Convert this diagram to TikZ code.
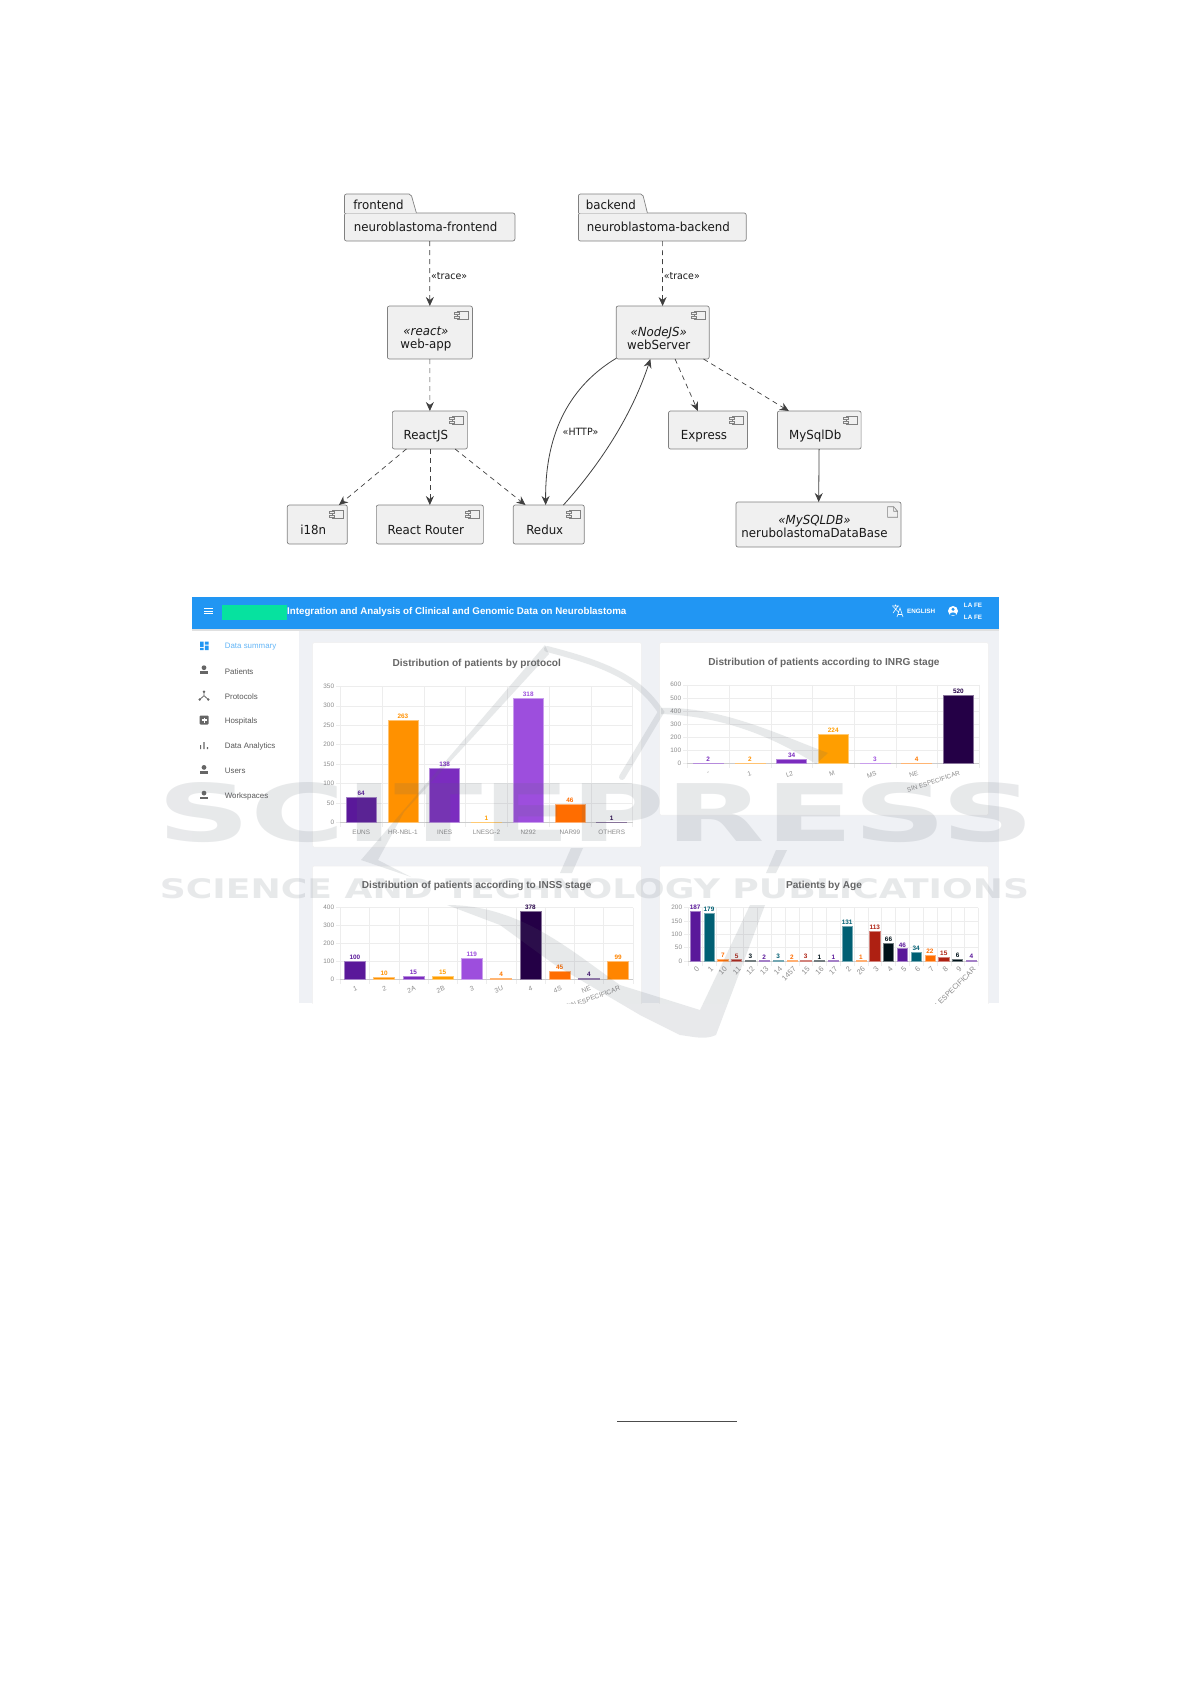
\documentclass[tikz,border=0pt]{standalone}
\usepackage{fontspec}
\usepackage{graphicx}
\setmainfont{Liberation Sans}
\newfontfamily\umlfont[FakeStretch=0.945]{DejaVu Sans}
\newfontfamily\markfont{DejaVu Sans}
\usetikzlibrary{arrows.meta}

\definecolor{appblue}{HTML}{2196F3}
\definecolor{appgreen}{HTML}{06E29F}
\definecolor{pageback}{HTML}{EFF1F5}
\definecolor{purpleA}{HTML}{240046}
\definecolor{purpleB}{HTML}{3C096C}
\definecolor{purpleC}{HTML}{5A189A}
\definecolor{purpleD}{HTML}{7B2CBF}
\definecolor{purpleE}{HTML}{9D4EDD}
\definecolor{orangeA}{HTML}{FF9E00}
\definecolor{orangeB}{HTML}{FF9100}
\definecolor{orangeC}{HTML}{FF8500}
\definecolor{orangeD}{HTML}{FF7900}
\definecolor{orangeE}{HTML}{FF6D00}
\definecolor{tealA}{HTML}{005F73}
\definecolor{redA}{HTML}{AE2012}
\definecolor{blackA}{HTML}{001219}
\definecolor{wmgray}{HTML}{5C6670}

\begin{document}
\begin{tikzpicture}[
    x = 1pt,
    y = -1pt,
    umlbox/.style = {draw = black!50, fill = black!6,
      line width = 0.7, rounded corners = 2, outer sep = 0, inner sep = 0},
    boxtext/.style = {font = \umlfont\fontsize{12.5}{13}\selectfont,
      align = center, text = black!90, inner sep = 0},
    edgetext/.style = {font = \umlfont\fontsize{10}{12}\selectfont,
      text = black!90, inner sep = 1},
    dep/.style = {black!75, line width = 0.7, dash pattern = on 5 off 4,
      -{Stealth[length = 9, width = 8, inset = 3]}},
    link/.style = {black!75, line width = 0.8,
      -{Stealth[length = 9, width = 8, inset = 3]}},
    panel/.style = {fill = white, draw = black!6, line width = 0.5,
      rounded corners = 1},
    charttitle/.style = {font = \bfseries\fontsize{10.1}{11}\selectfont,
      text = black!60, inner sep = 0},
    ticktext/.style = {font = \fontsize{6.4}{7}\selectfont,
      text = black!45, inner sep = 0},
    valtext/.style = {font = \bfseries\fontsize{6.4}{7}\selectfont,
      inner sep = 0, anchor = south},
    navtext/.style = {font = \fontsize{7.9}{9}\selectfont,
      text = black!65, anchor = west, inner sep = 0},
    navicon/.style = {fill = black!60},
    headtext/.style = {font = \bfseries\fontsize{6.3}{7}\selectfont,
      text = white, inner sep = 0, anchor = west},
    wmark/.style = {fill = wmgray, opacity = 0.14},
    wmarkline/.style = {draw = wmgray, opacity = 0.14, line cap = round},
    wmarktext/.style = {font = \markfont\bfseries, text = wmgray,
      text opacity = 0.14, inner sep = 0},
    ]

    \useasboundingbox (0, 0) rectangle (1191, 1684);

    % packages
    \node at (429.7, 227) [umlbox, minimum width = 170.4, minimum height = 28,
      label = {[boxtext, xshift = -4]center:neuroblastoma-frontend},
      name = frontend_pkg] {};
    \node at (662.3, 227) [umlbox, minimum width = 167.8, minimum height = 28,
      label = {[boxtext, xshift = -4]center:neuroblastoma-backend},
      name = backend_pkg] {};
    \draw [umlbox] (frontend_pkg.north west) -- ++(0, -19) -- ++(66.5, 0)
    -- ++(5.4, 19);
    \draw [umlbox] (backend_pkg.north west) -- ++(0, -19) -- ++(64.3, 0)
    -- ++(4.7, 19);
    \node at (378.5, 205) [boxtext, name = frontend_tab] {frontend};
    \node at (610.8, 205) [boxtext, name = backend_tab] {backend};

    % components
    \node at (429.9, 332.5) [umlbox, minimum width = 85, minimum height = 53,
      label = {[boxtext, xshift = -4, yshift = -6]center:{\itshape «react»\\web-app}},
      name = web_app] {};
    \node at (662.7, 332.5) [umlbox, minimum width = 93, minimum height = 53,
      label = {[boxtext, xshift = -4, yshift = -6]center:{\itshape «NodeJS»\\webServer}},
      name = web_server] {};
    \node at (429.85, 430) [umlbox, minimum width = 75, minimum height = 38,
      label = {[boxtext, xshift = -4, yshift = -6]center:ReactJS},
      name = react_js] {};
    \node at (708, 430) [umlbox, minimum width = 79, minimum height = 38,
      label = {[boxtext, xshift = -4, yshift = -6]center:Express},
      name = express] {};
    \node at (819.25, 430) [umlbox, minimum width = 83.7, minimum height = 38,
      label = {[boxtext, xshift = -4, yshift = -6]center:MySqlDb},
      name = mysql_db] {};
    \node at (317.3, 524.5) [umlbox, minimum width = 60, minimum height = 39,
      label = {[boxtext, xshift = -4, yshift = -5.5]center:i18n},
      name = i18n] {};
    \node at (429.85, 524.5) [umlbox, minimum width = 107, minimum height = 39,
      label = {[boxtext, xshift = -4, yshift = -5.5]center:React Router},
      name = react_router] {};
    \node at (548.75, 524.5) [umlbox, minimum width = 71, minimum height = 39,
      label = {[boxtext, xshift = -4, yshift = -5.5]center:Redux},
      name = redux] {};
    \node at (818.5, 524.5) [umlbox, minimum width = 165, minimum height = 45,
      label = {[boxtext, xshift = -4, yshift = -1.5]center:{\itshape «MySQLDB»\\nerubolastomaDataBase}},
      name = data_base] {};

    \foreach \comp in {web_app, web_server, react_js, express, mysql_db,
      i18n, react_router, redux} {
      \draw [black!50, line width = 0.6, fill = black!6]
      ([shift = {(-15.2, 5.3)}]\comp.north east) rectangle
      ([shift = {(-3.8, 13)}]\comp.north east);
      \draw [black!50, line width = 0.6, fill = black!6]
      ([shift = {(-18, 6.6)}]\comp.north east) rectangle
      ([shift = {(-13, 8.6)}]\comp.north east);
      \draw [black!50, line width = 0.6, fill = black!6]
      ([shift = {(-18, 9.8)}]\comp.north east) rectangle
      ([shift = {(-13, 11.8)}]\comp.north east);
    }
    \draw [black!50, line width = 0.6]
    ([shift = {(-13.4, 4.7)}]data_base.north east) -- ++(6, 0) -- ++(4, 4.5)
    -- ++(0, 6) -- ++(-10, 0) -- cycle
    ([shift = {(-7.4, 4.7)}]data_base.north east) -- ++(0, 4.5) -- ++(4, 0);

    % connectors
    \draw [dep] (frontend_pkg) to node [edgetext, right, pos = 0.5, yshift = -3]
    {«trace»} (web_app);
    \draw [dep] (backend_pkg) to node [edgetext, right, pos = 0.5, yshift = -3]
    {«trace»} (web_server);
    \draw [dep] (web_app) to (react_js);
    \draw [dep] (react_js) to (react_router);
    \draw [dep] (react_js.219) to (i18n.42);
    \draw [dep] (react_js.323) to (redux.140);
    \draw [dep] (web_server.295) to (express.118);
    \draw [dep] (web_server.327) to (mysql_db.148);
    \draw [link] (mysql_db) to (data_base);
    \draw [link] (web_server.209) .. controls (572, 385) and (545, 430) ..
    node [edgetext, right, pos = 0.62, xshift = 5] {«HTTP»} (redux.99);
    \draw [link] (redux.53) .. controls (603, 461) and (633, 412) ..
    (web_server.245);

    % screenshot
    \begin{scope}
      \clip (192, 597) rectangle (999, 1003);
      \fill [white] (192, 597) rectangle (999, 1003);
      \fill [pageback] (299, 629) rectangle (999, 1003);
      \fill [black!12] (192, 629) rectangle (999, 631);
      \fill [appblue] (192, 597) rectangle (999, 629);

      \draw [panel] (312.7, 642.7) rectangle (641.3, 847);
      \draw [panel] (659.7, 642.7) rectangle (988.3, 815);
      \draw [panel] (312.7, 866) rectangle (641.3, 1010);
      \draw [panel] (659.7, 866) rectangle (988.3, 1010);

      % header
      \foreach \y in {608.3, 611, 613.7} {
        \draw [white, line width = 0.9] (204, \y) -- (213, \y);
      }
      \fill [appgreen] (222.3, 604.7) rectangle (286.7, 620);
      \node at (287, 612) [font = \bfseries\fontsize{9.75}{11}\selectfont,
        text = white, anchor = west, inner sep = 0, name = app_title]
      {Integration and Analysis of Clinical and Genomic Data on Neuroblastoma};
      \draw [white, line width = 0.6] (892, 606) -- (899, 606)
      (895.5, 604.5) -- (895.5, 606) (893, 613) -- (898, 606)
      (893.5, 607) -- (898.5, 612)
      (897, 617) -- (900, 608) -- (903, 617) (898, 614.5) -- (902, 614.5);
      \node at (907, 611) [headtext, name = lang_text] {ENGLISH};
      \fill [white] (953, 611) circle (5);
      \fill [appblue] (953, 609.3) circle (1.7);
      \fill [appblue] (949.6, 614.3) .. controls (950.5, 611.8) and (955.5, 611.8)
      .. (956.4, 614.3) .. controls (955, 615.6) and (951, 615.6) .. cycle;
      \node at (963.7, 605) [headtext, name = user_a] {LA FE};
      \node at (963.7, 617) [headtext, name = user_b] {LA FE};

      % side menu
      \fill [appblue] (200, 641.7) rectangle (203.7, 647)
      (204.8, 641.7) rectangle (208.7, 644.6)
      (200, 648) rectangle (203.7, 650)
      (204.8, 645.7) rectangle (208.7, 650);
      \node at (224.7, 646.7) [navtext, text = appblue!70, name = nav_summary]
      {Data summary};
      \foreach \y/\t/\n in {670.3/Patients/nav_patients, 770/Users/nav_users,
        795.7/Workspaces/nav_spaces} {
        \fill [navicon] (204, \y - 2.6) circle (2.4);
        \fill [navicon] (200, \y + 3.6) rectangle (208, \y + 1);
        \node at (224.7, \y + 1) [navtext, name = \n] {\t};
      }
      \draw [black!60, line width = 0.8] (204, 691.7) -- (204, 695.7)
      -- (199.7, 699.5) (204, 695.7) -- (208.3, 699.5);
      \fill [navicon] (204, 691.7) circle (1.3) (199.7, 699.5) circle (1.3)
      (208.3, 699.5) circle (1.3);
      \node at (224.7, 696.7) [navtext, name = nav_protocols] {Protocols};
      \fill [navicon, rounded corners = 1] (199.7, 715.5) rectangle (208.7, 724.5);
      \draw [white, line width = 1.2] (201.7, 720) -- (206.7, 720)
      (204.2, 717.5) -- (204.2, 722.5);
      \node at (224.7, 721.5) [navtext, name = nav_hospitals] {Hospitals};
      \fill [navicon] (200, 749) rectangle (201.2, 745)
      (203.4, 749) rectangle (204.6, 742) (206.8, 749) rectangle (208, 747);
      \node at (224.7, 746.5) [navtext, name = nav_analytics] {Data Analytics};

      % chart grids
      \foreach \xa/\dx/\n/\ya/\dy/\m/\vs in {
        340.3/41.76/7/822.3/19.43/7/50,
        687.3/41.7/7/763.3/13.1/6/100,
        340.3/29.24/10/979/17.83/4/100,
        688.3/13.81/21/961/13.33/4/50} {
        \foreach \k in {0, ..., \m} {
          \pgfmathsetmacro{\yk}{\ya - \dy * \k}
          \pgfmathtruncatemacro{\vk}{\vs * \k}
          \draw [black!7, line width = 0.4] (\xa - 4, \yk) -- (\xa + \dx * \n, \yk);
          \node at (\xa - 6, \yk) [ticktext, anchor = east] {\vk};
        }
        \foreach \k in {0, ..., \n} {
          \draw [black!7, line width = 0.4] (\xa + \dx * \k, \ya - \dy * \m)
          -- (\xa + \dx * \k, \ya + 5);
        }
        \draw [black!20, line width = 0.5] (\xa, \ya) -- (\xa + \dx * \n, \ya);
      }

      % protocol chart
      \node at (476.7, 664.3) [charttitle, name = protocol_title]
      {Distribution of patients by protocol};
      \foreach \i/\v/\t/\c in {0/64/EUNS/purpleC, 1/263/HR-NBL-1/orangeB,
        2/138/INES/purpleD, 3/1/LNESG-2/orangeA, 4/318/N292/purpleE,
        5/46/NAR99/orangeE, 6/1/OTHERS/purpleA} {
        \pgfmathsetmacro{\xc}{340.3 + 41.76 * (\i + 0.5)}
        \pgfmathsetmacro{\yt}{822.3 - 0.3886 * \v}
        \draw [draw = \c!55!white, fill = \c, line width = 0.5]
        (\xc - 15, 822.3) rectangle (\xc + 15, \yt);
        \node at (\xc, \yt - 1.5) [valtext, text = \c] {\v};
        \node at (\xc, 832.7) [ticktext] {\t};
      }

      % inrg chart
      \node at (824, 663) [charttitle, name = inrg_title]
      {Distribution of patients according to INRG stage};
      \foreach \i/\v/\t/\c in {0/2/-/purpleD, 1/2/1/orangeB, 2/34/L2/purpleD,
        3/224/M/orangeA, 4/3/MS/purpleE, 5/4/NE/orangeD,
        6/520/SIN ESPECIFICAR/purpleA} {
        \pgfmathsetmacro{\xc}{687.3 + 41.7 * (\i + 0.5)}
        \pgfmathsetmacro{\yt}{763.3 - 0.131 * \v}
        \draw [draw = \c!55!white, fill = \c, line width = 0.5]
        (\xc - 15, 763.3) rectangle (\xc + 15, \yt);
        \node at (\xc, \yt - 1.5) [valtext, text = \c] {\v};
        \node at (\xc + 1.5, 773) [ticktext, rotate = 18, anchor = east] {\t};
      }

      % inss chart
      \node at (476.7, 886) [charttitle, name = inss_title]
      {Distribution of patients according to INSS stage};
      \foreach \i/\v/\t/\c in {0/100/1/purpleC, 1/10/2/orangeB, 2/15/2A/purpleD,
        3/15/2B/orangeA, 4/119/3/purpleE, 5/4/3U/orangeD, 6/378/4/purpleA,
        7/45/4S/orangeE, 8/4/NE/purpleB, 9/99/SIN ESPECIFICAR/orangeC} {
        \pgfmathsetmacro{\xc}{340.3 + 29.24 * (\i + 0.5)}
        \pgfmathsetmacro{\yt}{979 - 0.1783 * \v}
        \draw [draw = \c!55!white, fill = \c, line width = 0.5]
        (\xc - 10.5, 979) rectangle (\xc + 10.5, \yt);
        \node at (\xc, \yt - 1.5) [valtext, text = \c] {\v};
        \node at (\xc + 2, 988) [ticktext, font = \fontsize{6.7}{7}\selectfont,
          rotate = 20, anchor = east] {\t};
      }

      % age chart
      \node at (824, 886) [charttitle, name = age_title] {Patients by Age};
      \foreach \i/\v/\t/\c in {0/187/0/purpleC, 1/179/1/tealA, 2/7/10/orangeE,
        3/5/11/redA, 4/3/12/blackA, 5/2/13/purpleC, 6/3/14/tealA,
        7/2/1457/orangeE, 8/3/15/redA, 9/1/16/blackA, 10/1/17/purpleC,
        11/131/2/tealA, 12/1/26/orangeE, 13/113/3/redA, 14/66/4/blackA,
        15/46/5/purpleC, 16/34/6/tealA, 17/22/7/orangeE, 18/15/8/redA,
        19/6/9/blackA, 20/4/SIN ESPECIFICAR/purpleC} {
        \pgfmathsetmacro{\xc}{688.3 + 13.81 * (\i + 0.5)}
        \pgfmathsetmacro{\yt}{961 - 0.2667 * \v}
        \draw [draw = \c!55!white, fill = \c, line width = 0.5]
        (\xc - 5.1, 961) rectangle (\xc + 5.1, \yt);
        \node at (\xc, \yt - 1.2) [valtext, text = \c] {\v};
        \node at (\xc + 3, 968) [ticktext, font = \fontsize{7.4}{8}\selectfont,
          rotate = 45, anchor = east] {\t};
      }
    \end{scope}

    % watermark
    \node at (596, 812.5) [wmarktext, name = mark_big]
    {\resizebox{876pt}{59pt}{SCITEPRESS}};
    \node at (594.5, 889) [wmarktext, name = mark_small]
    {\resizebox{869pt}{20pt}{SCIENCE AND TECHNOLOGY PUBLICATIONS}};
    \fill [wmark] (545, 645) -- (361, 860) -- (411, 877) -- (378, 860)
    -- (404, 812) -- (549, 654) -- cycle;
    \draw [wmarkline, line width = 6] (547, 649) .. controls (610, 665)
    and (640, 680) .. (661, 712) -- (622, 777);
    \fill [wmark] (661, 708) .. controls (720, 706) and (780, 735) .. (828, 753)
    -- (816, 764) .. controls (770, 735) and (720, 716) .. (661, 714) -- cycle;
    \fill [wmark] (571, 848) -- (583, 848) -- (572, 873) -- (560, 873) -- cycle;
    \fill [wmark] (776, 850) -- (787, 850) -- (776, 873) -- (766, 873) -- cycle;
    \fill [wmark] (447, 905) .. controls (520, 905) and (570, 950) .. (620, 985)
    -- (700, 1010) -- (750, 905) -- (765, 905) -- (716, 1035)
    .. controls (705, 1040) and (695, 1037) .. (680, 1035)
    -- (640, 1015) -- (555, 965) -- (500, 925) -- cycle;

    % footnote rule
    \coordinate (rule_start) at (617, 1421);
    \coordinate (rule_end) at (737, 1421);
    \draw [black!70, line width = 1] (rule_start) -- (rule_end);
\end{tikzpicture}
\end{document}
